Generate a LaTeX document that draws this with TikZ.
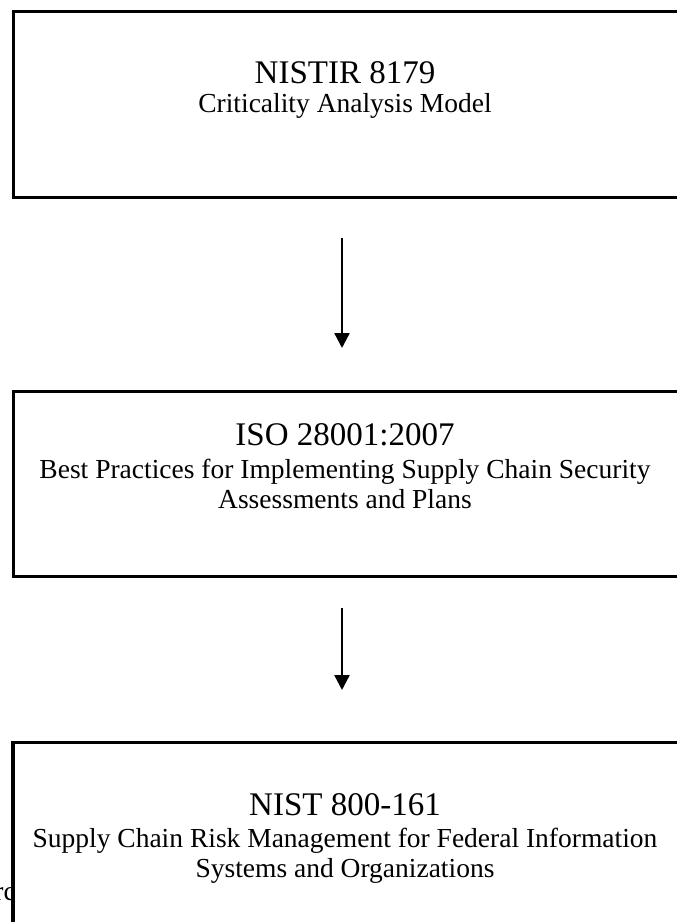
\documentclass[tikz,border=0pt]{standalone}
\usepackage{fontspec}
\setmainfont{Liberation Serif}
\usetikzlibrary{arrows.meta}

\tikzset{
  stdbox/.style={draw, line width=3pt, minimum width=700pt, anchor=north west, inner sep=0pt},
  titletext/.style={font=\fontsize{33}{38}\selectfont, anchor=base, inner sep=0pt},
  subtext/.style={font=\fontsize{27.5}{30}\selectfont, anchor=base, inner sep=0pt},
  flow/.style={->, line width=2.4pt}
}

\begin{document}
\begin{tikzpicture}[x=1pt, y=1pt, >={Triangle[width=15pt,length=15pt]}]

\useasboundingbox (0,0) rectangle (677,-922);
\clip (0,0) rectangle (677,-922);

% Boxes
\node (ci) [stdbox, minimum height=186pt] at (12,-10) {};
\node (iso) [stdbox, minimum height=185pt] at (12,-390) {};
\node (scrm) [stdbox, minimum height=300pt] at (12,-741) {};

% Texts
\node (ci-t) [titletext] at (345,-83) {NISTIR 8179};
\node (ci-s) [subtext] at (345,-112) {Criticality Analysis Model};

\node (iso-t) [titletext] at (345,-445) {ISO 28001:2007};
\node (iso-s1) [subtext] at (345,-478) {Best Practices for Implementing Supply Chain Security};
\node (iso-s2) [subtext] at (345,-508) {Assessments and Plans};

\node (scrm-t) [titletext] at (345,-815) {NIST 800-161};
\node (scrm-s1) [subtext] at (345,-847) {Supply Chain Risk Management for Federal Information};
\node (scrm-s2) [subtext] at (345,-877) {Systems and Organizations};

% cut-off text at the left edge
\node (frag) [subtext, anchor=base east] at (16,-900) {rc};
\draw[line width=3pt] (scrm.north west) -- (scrm.south west);

% Arrows
\coordinate (axis) at (342,0);
\draw[flow] ([yshift=-39pt]ci.south -| axis) -- ([yshift=42pt]iso.north -| axis);
\draw[flow] ([yshift=-30pt]iso.south -| axis) -- ([yshift=51pt]scrm.north -| axis);

\end{tikzpicture}
\end{document}
